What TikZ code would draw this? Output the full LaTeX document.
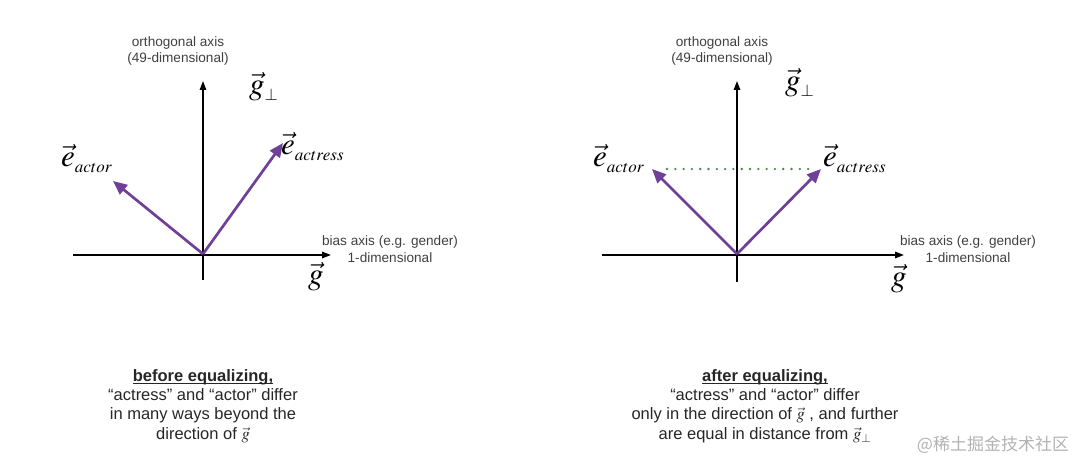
\documentclass[tikz,border=0pt]{standalone}
\usepackage{mathptmx}
\usepackage{fontspec}
\setmainfont{Liberation Sans}
\newfontfamily\cjk{Noto Sans CJK SC}
\usetikzlibrary{arrows.meta}

\definecolor{vpurple}{RGB}{112,64,152}
\definecolor{dgreen}{RGB}{70,135,80}

% big vector label with lowered subscript
\newcommand{\vlab}[2]{{\fontsize{31}{31}\selectfont$\vec{#1}$}\raisebox{-6pt}{\fontsize{17}{17}\selectfont$#2$}}
% underline close to the baseline
\newcommand{\ulhead}[1]{\setbox0\hbox{#1}\rlap{\rule[-2.6pt]{\wd0}{0.9pt}}\box0}

\begin{document}
\begin{tikzpicture}[x=1pt, y=-1pt,
  font=\fontsize{13.6}{16.5}\selectfont,
  axis/.style={draw=black, line width=1.4pt, -{Triangle[length=9pt,width=6.5pt]}},
  vecarr/.style={draw=vpurple, line width=2.7pt, -{Triangle[length=14pt,width=12pt]}},
  lbl/.style={inner sep=0pt, align=center, text=black!75},
  vlbl/.style={inner sep=0pt, anchor=base west},
  caption/.style={inner sep=0pt, align=center, text=black!85,
                  font=\fontsize{16.5}{19.3}\selectfont}
]
\useasboundingbox (0,0) rectangle (1080,462);

% before equalizing
\coordinate (o1) at (203,254);
\coordinate (xl1) at (73,255);
\coordinate (xr1) at (331,255);
\coordinate (yb1) at (203,280);
\coordinate (yt1) at (203,81);
\coordinate (ta1) at (113,181);
\coordinate (tb1) at (283,143);

\draw[axis] (xl1) -- (xr1);
\draw[axis] (yb1) -- (yt1);
\draw[vecarr] (o1) -- (ta1);
\draw[vecarr] (o1) -- (tb1);

\node[lbl] (ortho1) at (178,51) {orthogonal axis\\(49-dimensional)};
\node[lbl] (bias1) at (390,249) {bias axis (e.g. gender)\\1-dimensional};
\node[vlbl] (gp1) at (249,95) {\vlab{g}{\perp}};
\node[vlbl] (ea1) at (61,167) {\vlab{e}{actor}};
\node[vlbl] (eb1) at (281,155) {\vlab{e}{actress}};
\node[vlbl] (g1) at (308,285) {\fontsize{31}{31}\selectfont$\vec{g}$};

\node[caption] (cap1) at (203,406) {\ulhead{\textbf{before equalizing,}}\\
  “actress” and “actor” differ\\in many ways beyond the\\direction of $\vec{g}$};

% after equalizing
\coordinate (o2) at (737,254);
\coordinate (xl2) at (602,255);
\coordinate (xr2) at (904,255);
\coordinate (yb2) at (737,282);
\coordinate (yt2) at (737,81);
\coordinate (ta2) at (652,169);
\coordinate (tb2) at (821,169);

\draw[dgreen, line width=2.6pt, line cap=round, dash pattern=on 0pt off 8.3pt,
      shorten <=15pt, shorten >=8pt]
  (ta2) -- (tb2);
\draw[axis] (xl2) -- (xr2);
\draw[axis] (yb2) -- (yt2);
\draw[vecarr] (o2) -- (ta2);
\draw[vecarr] (o2) -- (tb2);

\node[lbl] (ortho2) at (722,51) {orthogonal axis\\(49-dimensional)};
\node[lbl] (bias2) at (968,249) {bias axis (e.g. gender)\\1-dimensional};
\node[vlbl] (gp2) at (785,91) {\vlab{g}{\perp}};
\node[vlbl] (ea2) at (593,167) {\vlab{e}{actor}};
\node[vlbl] (eb2) at (823,167) {\vlab{e}{actress}};
\node[vlbl] (g2) at (891,287) {\fontsize{31}{31}\selectfont$\vec{g}$};

\node[caption] (cap2) at (765,406) {\ulhead{\textbf{after equalizing,}}\\
  “actress” and “actor” differ\\only in the direction of $\vec{g}$ , and further\\
  are equal in distance from $\vec{g}_{\perp}$};

\node[inner sep=0pt, text=black!30, font=\cjk\fontsize{17}{17}\selectfont]
  (wm) at (993,445) {@稀土掘金技术社区};
\end{tikzpicture}
\end{document}
